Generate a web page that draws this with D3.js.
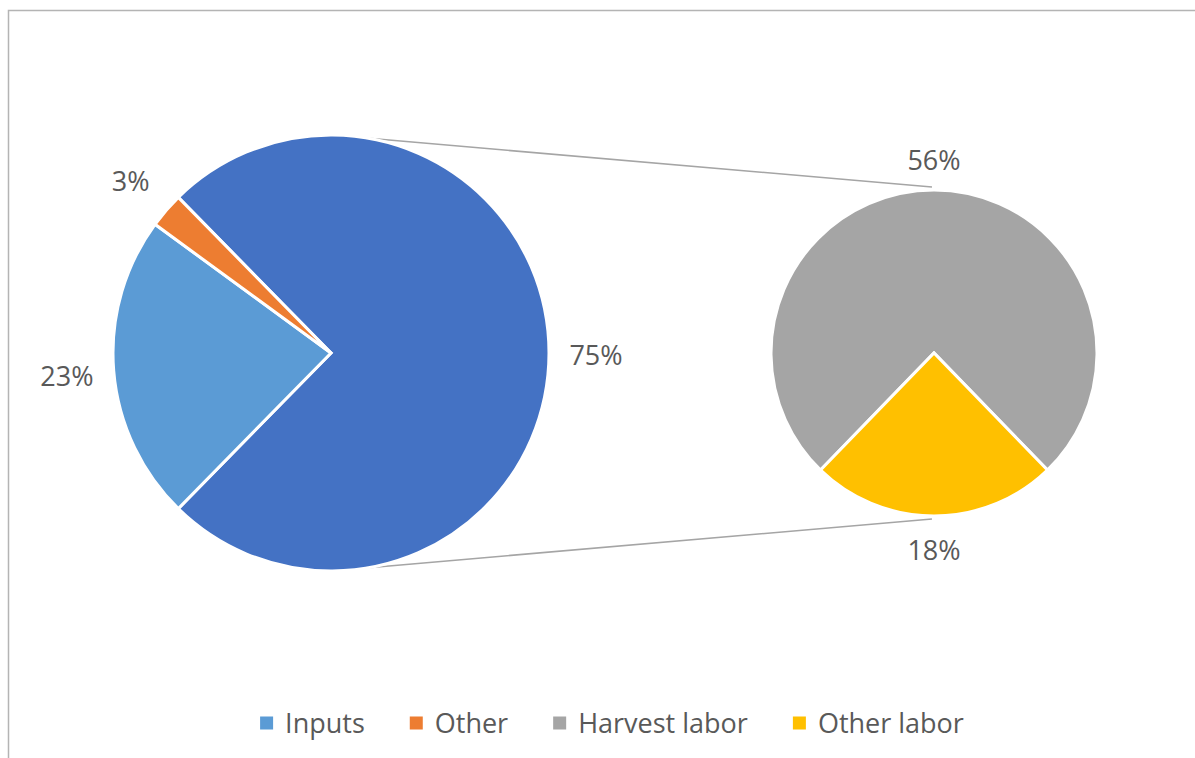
<!DOCTYPE html>
<html>
<head>
<meta charset="utf-8">
<script src="https://cdn.jsdelivr.net/npm/d3@7"></script>
<style>
  html, body { margin: 0; padding: 0; background: #fff; }
  svg { display: block; font-family: "Open Sans", "Noto Sans", sans-serif; }
</style>
</head>
<body>
<svg id="chart" width="1195" height="758"></svg>
<script>
// Cost shares (% of total). Labor is split out into a secondary pie.
const mainCategories = ["Labor", "Inputs", "Other"];
const laborCategories = ["Harvest labor", "Other labor"];
const laborValues = [56.4, 18.3];
const mainValues = [d3.sum(laborValues), 22.7, 2.6];
const legendLabels = ["Inputs", "Other", "Harvest labor", "Other labor"];

const colors = {
  "Labor": "#4472C4",
  "Inputs": "#5B9BD5",
  "Other": "#ED7D31",
  "Harvest labor": "#A5A5A5",
  "Other labor": "#FFC000"
};
const textColor = "#595959";
const pct = d => Math.round(d) + "%";

const svg = d3.select("#chart");

// Chart area border (only top and left edges fall inside the view)
svg.append("rect")
  .attr("x", 8.5).attr("y", 10.5)
  .attr("width", 1300).attr("height", 900)
  .attr("fill", "none")
  .attr("stroke", "#b4b4b4")
  .attr("stroke-width", 1.5);

const main = { cx: 331, cy: 353, r: 218 };
const second = { cx: 934, cy: 353, r: 163 };

// Main pie: the aggregated labor slice is centred on the right-hand side
const laborSpan = 2 * Math.PI * mainValues[0] / d3.sum(mainValues);
const mainStart = Math.PI / 2 - laborSpan / 2;
const mainPie = d3.pie().sort(null).value(d => d.value)
  .startAngle(mainStart).endAngle(mainStart + 2 * Math.PI);
const mainData = mainPie(mainCategories.map((c, i) => ({ cat: c, value: mainValues[i] })));

// Secondary pie: "Other labor" centred at the bottom
const olSpan = 2 * Math.PI * laborValues[1] / d3.sum(laborValues);
const secStart = Math.PI + olSpan / 2;
const secPie = d3.pie().sort(null).value(d => d.value)
  .startAngle(secStart).endAngle(secStart + 2 * Math.PI);
const secData = secPie(laborCategories.map((c, i) => ({ cat: c, value: laborValues[i] })));

// Connector lines between the two pies
function polar(c, r, a) {
  return [c.cx + r * Math.sin(a), c.cy - r * Math.cos(a)];
}
const connA = 10 * Math.PI / 180;
const connB = 0.7 * Math.PI / 180;
const connectors = [
  [polar(main, main.r, connA), polar(second, second.r + 3, -connB)],
  [polar(main, main.r, Math.PI - connA), polar(second, second.r + 3, Math.PI + connB)]
];
svg.append("g").selectAll("line").data(connectors).join("line")
  .attr("x1", d => d[0][0]).attr("y1", d => d[0][1])
  .attr("x2", d => d[1][0]).attr("y2", d => d[1][1])
  .attr("stroke", "#a5a5a5")
  .attr("stroke-width", 1.6);

function drawPie(c, data, labelPad) {
  const arc = d3.arc().innerRadius(0).outerRadius(c.r);
  const g = svg.append("g").attr("transform", `translate(${c.cx},${c.cy})`);
  g.selectAll("path").data(data).join("path")
    .attr("d", arc)
    .attr("fill", d => colors[d.data.cat])
    .attr("stroke", "#fff")
    .attr("stroke-width", 3)
    .attr("stroke-linejoin", "miter");
  g.selectAll("text").data(data).join("text")
    .attr("transform", d => {
      const a = (d.startAngle + d.endAngle) / 2;
      const rr = c.r + labelPad;
      return `translate(${rr * Math.sin(a)},${-rr * Math.cos(a)})`;
    })
    .attr("text-anchor", "middle")
    .attr("dy", "0.43em")
    .attr("fill", textColor)
    .attr("font-size", 27)
    .text(d => pct(d.data.value));
}

drawPie(main, mainData, 47);
drawPie(second, secData, 32);

// Legend along the bottom, centred
const legend = svg.append("g");
const items = legend.selectAll("g").data(legendLabels).join("g");
items.append("rect")
  .attr("width", 13).attr("height", 13)
  .attr("y", -6.5)
  .attr("fill", d => colors[d]);
items.append("text")
  .attr("x", 25)
  .attr("dy", "0.38em")
  .attr("fill", textColor)
  .attr("font-size", 27)
  .text(d => d);

let x = 0;
const gap = 45;
items.each(function () {
  const w = d3.select(this).select("text").node().getComputedTextLength() + 25;
  d3.select(this).attr("transform", `translate(${x},0)`);
  x += w + gap;
});
const total = x - gap;
legend.attr("transform", `translate(${612 - total / 2},723)`);
</script>
</body>
</html>
